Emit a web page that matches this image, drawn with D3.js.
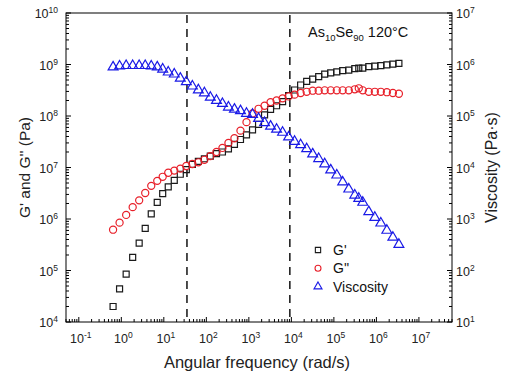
<!DOCTYPE html>
<html>
<head>
<meta charset="utf-8">
<script src="https://cdn.jsdelivr.net/npm/d3@7"></script>
<style>
  body { margin: 0; background: #fff; }
  svg { font-family: "Liberation Sans", Arial, sans-serif; }
</style>
</head>
<body>
<div id="chart"></div>
<script>
// angular frequency (rad/s), shared by all three series
const freq = [0.64, 0.91, 1.30, 1.85, 2.63, 3.65, 5.06, 7.0, 9.4, 12.7,
  17.6, 24.4, 33.8, 46.9, 64.9, 90, 124, 173, 239, 331,
  458, 635, 880, 1220, 1690, 2340, 3240, 4490, 6210, 8610,
  11900, 16500, 22900, 31700, 43900, 60800, 84200, 1.17e5, 1.61e5, 2.24e5,
  3.10e5, 3.85e5, 4.78e5, 6.62e5, 9.18e5, 1.27e6, 1.76e6, 2.44e6, 3.38e6];

// G' (Pa)
const gPrime = [2.0e4, 4.4e4, 8.5e4, 1.8e5, 3.4e5, 6.6e5, 1.26e6, 2.1e6, 3.1e6, 4.2e6,
  5.6e6, 7.4e6, 9.1e6, 1.15e7, 1.32e7, 1.48e7, 1.66e7, 1.86e7, 2.0e7, 2.3e7,
  2.8e7, 3.5e7, 4.3e7, 5.4e7, 6.9e7, 1.05e8, 1.35e8, 1.58e8, 1.9e8, 2.5e8,
  3.2e8, 4.0e8, 4.7e8, 5.2e8, 5.8e8, 6.5e8, 6.9e8, 7.2e8, 7.6e8, 7.8e8,
  8.3e8, 8.5e8, 8.5e8, 9.1e8, 9.3e8, 9.5e8, 9.8e8, 1.02e9, 1.05e9];

// G'' (Pa)
const gDouble = [6.2e5, 8.5e5, 1.2e6, 1.7e6, 2.3e6, 3.2e6, 4.4e6, 5.5e6, 6.6e6, 7.9e6,
  8.7e6, 9.5e6, 1.07e7, 1.17e7, 1.26e7, 1.41e7, 1.66e7, 2.0e7, 2.4e7, 3.0e7,
  3.7e7, 5.2e7, 7.6e7, 1.12e8, 1.38e8, 1.58e8, 1.86e8, 2.0e8, 2.2e8, 2.4e8,
  2.6e8, 2.8e8, 2.95e8, 3.1e8, 3.1e8, 3.15e8, 3.15e8, 3.15e8, 3.15e8, 3.15e8,
  3.3e8, 3.45e8, 3.15e8, 2.95e8, 2.95e8, 2.95e8, 2.9e8, 2.8e8, 2.7e8];

// complex viscosity (Pa·s)
const viscosity = [8.9e5, 9.3e5, 9.5e5, 9.5e5, 9.5e5, 9.5e5, 9.3e5, 8.9e5, 8.1e5, 7.1e5,
  6.5e5, 5.4e5, 4.6e5, 3.8e5, 3.2e5, 2.8e5, 2.3e5, 2.0e5, 1.74e5, 1.48e5,
  1.35e5, 1.26e5, 1.12e5, 1.07e5, 8.9e4, 7.4e4, 6.3e4, 5.5e4, 4.8e4, 3.9e4,
  3.2e4, 2.75e4, 2.3e4, 1.82e4, 1.48e4, 1.17e4, 8.9e3, 7.1e3, 5.2e3, 3.8e3,
  2.9e3, 2.5e3, 2.1e3, 1.38e3, 1.07e3, 830, 600, 440, 320];

const xTicks = [-1, 0, 1, 2, 3, 4, 5, 6, 7];
const yLeftTicks = [4, 5, 6, 7, 8, 9, 10];
const yRightTicks = [1, 2, 3, 4, 5, 6, 7];
const dashedAt = [35, 9200];

const width = 507, height = 376;
const marginTop = 13, marginRight = 55, marginBottom = 54, marginLeft = 66;

const svg = d3.select("#chart").append("svg")
  .attr("width", width)
  .attr("height", height)
  .attr("viewBox", [0, 0, width, height]);

const x = d3.scaleLog()
  .domain([0.05, 6e7])
  .range([marginLeft, width - marginRight]);

const yL = d3.scaleLog()
  .domain([1e4, 1e10])
  .range([height - marginBottom, marginTop]);

const yR = d3.scaleLog()
  .domain([1e1, 1e7])
  .range([height - marginBottom, marginTop]);

const x0 = marginLeft, x1 = width - marginRight;
const y0 = height - marginBottom, y1 = marginTop;

// minor + major tick helper (ticks point inward)
function decadeTicks(lo, hi) {
  const out = [];
  for (let e = lo; e < hi; e++) {
    for (let m = 1; m < 10; m++) out.push({ v: m * Math.pow(10, e), major: m === 1 });
  }
  out.push({ v: Math.pow(10, hi), major: true });
  return out;
}

const axis = svg.append("g").attr("stroke", "#000").attr("stroke-width", 1);

// bottom ticks
decadeTicks(-2, 8).filter(t => t.v >= 0.05 && t.v <= 6e7).forEach(t => {
  axis.append("line")
    .attr("x1", x(t.v)).attr("x2", x(t.v))
    .attr("y1", y0).attr("y2", y0 - (t.major ? 5 : 3));
});
// left ticks
decadeTicks(4, 10).forEach(t => {
  axis.append("line")
    .attr("x1", x0).attr("x2", x0 + (t.major ? 5 : 3))
    .attr("y1", yL(t.v)).attr("y2", yL(t.v));
});
// right ticks
decadeTicks(1, 7).forEach(t => {
  axis.append("line")
    .attr("x1", x1).attr("x2", x1 - (t.major ? 5 : 3))
    .attr("y1", yR(t.v)).attr("y2", yR(t.v));
});

// frame
svg.append("rect")
  .attr("x", x0).attr("y", y1)
  .attr("width", x1 - x0).attr("height", y0 - y1)
  .attr("fill", "none").attr("stroke", "#000").attr("stroke-width", 1);

// tick labels as 10^n
function powLabel(g, px, py, exp, anchor) {
  const t = g.append("text")
    .attr("x", px).attr("y", py)
    .attr("text-anchor", anchor)
    .attr("font-size", 12.5)
    .attr("fill", "#222");
  t.append("tspan").text("10");
  t.append("tspan").attr("dy", -5).attr("font-size", 8.5).text(exp);
}

const labels = svg.append("g");
xTicks.forEach(e => powLabel(labels, x(Math.pow(10, e)) + 2, y0 + 21, e, "middle"));
yLeftTicks.forEach(e => powLabel(labels, 58, yL(Math.pow(10, e)) + 5, e, "end"));
yRightTicks.forEach(e => powLabel(labels, x1 + 4, yR(Math.pow(10, e)) + 5, e, "start"));

// axis titles
svg.append("text")
  .attr("x", 257).attr("y", 368)
  .attr("text-anchor", "middle")
  .attr("font-size", 16.5).attr("fill", "#222")
  .text("Angular frequency (rad/s)");

svg.append("text")
  .attr("transform", `translate(30,${(y0 + y1) / 2}) rotate(-90)`)
  .attr("text-anchor", "middle")
  .attr("font-size", 15.5).attr("fill", "#222")
  .text("G' and G'' (Pa)");

svg.append("text")
  .attr("transform", `translate(497,${(y0 + y1) / 2}) rotate(-90)`)
  .attr("text-anchor", "middle")
  .attr("font-size", 16).attr("fill", "#222")
  .text("Viscosity (Pa·s)");

// dashed reference lines
svg.append("g")
  .selectAll("line")
  .data(dashedAt)
  .join("line")
  .attr("x1", d => x(d)).attr("x2", d => x(d))
  .attr("y1", y1 + 2).attr("y2", y0)
  .attr("stroke", "#222")
  .attr("stroke-width", 1.6)
  .attr("stroke-dasharray", "8,6");

// title
const title = svg.append("text")
  .attr("x", 308).attr("y", 37)
  .attr("font-size", 14.5).attr("fill", "#111");
title.append("tspan").text("As");
title.append("tspan").attr("dy", 4).attr("font-size", 9.5).text("10");
title.append("tspan").attr("dy", -4).text("Se");
title.append("tspan").attr("dy", 4).attr("font-size", 9.5).text("90");
title.append("tspan").attr("dy", -4).text(" 120°C");

// markers
const shapes = { square: d3.symbolSquare, circle: d3.symbolCircle, triangle: d3.symbolTriangle };
const sizes = { square: 36, circle: 40, triangle: 42 };

const series = [
  { name: "G'", values: gPrime, y: yL, color: "#1a1a1a", shape: "square" },
  { name: "G''", values: gDouble, y: yL, color: "#e8202a", shape: "circle" },
  { name: "Viscosity", values: viscosity, y: yR, color: "#1a1ae6", shape: "triangle" }
];

series.forEach(s => {
  svg.append("g")
    .selectAll("path")
    .data(freq.map((f, i) => [f, s.values[i]]))
    .join("path")
    .attr("d", d3.symbol().type(shapes[s.shape]).size(sizes[s.shape]))
    .attr("transform", d => `translate(${x(d[0])},${s.y(d[1])})`)
    .attr("fill", "none")
    .attr("stroke", s.color)
    .attr("stroke-width", 1.2);
});

// legend
const legend = svg.append("g");
series.forEach((s, i) => {
  const ly = 250 + i * 18.3;
  legend.append("path")
    .attr("d", d3.symbol().type(shapes[s.shape]).size(28))
    .attr("transform", `translate(318,${ly})`)
    .attr("fill", "none")
    .attr("stroke", s.color)
    .attr("stroke-width", 1.1);
  legend.append("text")
    .attr("x", 333).attr("y", ly + 5)
    .attr("font-size", 14).attr("fill", "#111")
    .text(s.name);
});
</script>
</body>
</html>
